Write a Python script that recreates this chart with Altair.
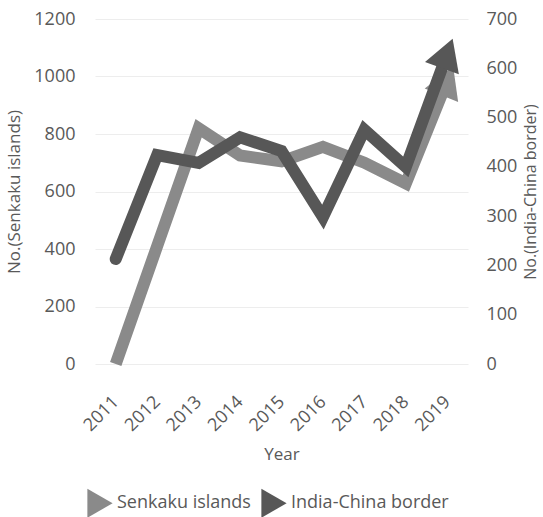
import math
import altair as alt
import pandas as pd

years = ["2011", "2012", "2013", "2014", "2015", "2016", "2017", "2018", "2019"]
senkaku = [0, 410, 820, 725, 705, 755, 700, 628, 985]
india_china = [213, 424, 408, 460, 432, 298, 475, 400, 630]
series_names = ["Senkaku islands", "India-China border"]
left_max = 1200
right_max = 700

W, H = 373, 345
FONT = "Open Sans"
TXT = "#595959"
colors = ["#8a8a8a", "#575757"]

df_s = pd.DataFrame({"year": years, "value": senkaku, "series": series_names[0]})
df_i = pd.DataFrame({"year": years, "value": india_china, "series": series_names[1]})


def arrow_angle(vals, vmax):
    step = W / len(years)
    dy_up = H * (vals[-1] - vals[-2]) / vmax
    return math.degrees(math.atan2(step, dy_up))


end_s = df_s.iloc[[-1]].assign(angle=arrow_angle(senkaku, left_max))
end_i = df_i.iloc[[-1]].assign(angle=arrow_angle(india_china, right_max))

x_enc = alt.X(
    "year:N",
    sort=years,
    scale=alt.Scale(paddingInner=0, paddingOuter=0.5),
    axis=alt.Axis(
        title="Year", labelAngle=-45, labelAlign="right", labelBaseline="middle",
        labelPadding=35, ticks=False, domain=False, grid=False,
        labelFontSize=18, titleFontSize=17, titlePadding=12,
    ),
)

y_left = alt.Y(
    "value:Q",
    scale=alt.Scale(domain=[0, left_max], nice=False),
    axis=alt.Axis(
        title="No.(Senkaku islands)", orient="left", values=list(range(0, 1201, 200)),
        format="d", ticks=False, domain=False, labelPadding=20, titlePadding=10,
        gridColor="#ededed", labelFontSize=18, titleFontSize=17,
    ),
)
y_right = alt.Y(
    "value:Q",
    scale=alt.Scale(domain=[0, right_max], nice=False),
    axis=alt.Axis(
        title="No.(India-China border)", orient="right", values=list(range(0, 701, 100)),
        format="d", ticks=False, domain=False, grid=False, labelPadding=18, titlePadding=6,
        labelFontSize=18, titleFontSize=16, titleAngle=-90, titleBaseline="top",
    ),
)

color_scale = alt.Scale(domain=series_names, range=colors)
legend_def = alt.Legend(
    title=None, orient="none", legendX=-10, legendY=469, direction="horizontal",
    symbolType="triangle-right", symbolSize=850, symbolStrokeWidth=0,
    symbolFillColor=None, symbolOpacity=1, labelFontSize=18, labelColor=TXT, labelFont=FONT,
    columnPadding=8, labelOffset=2,
)
color_enc = alt.Color("series:N", scale=color_scale, legend=legend_def)

line_s = alt.Chart(df_s).mark_line(strokeWidth=12, strokeJoin="miter", strokeCap="butt").encode(
    x=x_enc, y=y_left, color=color_enc
)
head_s = alt.Chart(end_s).mark_point(shape="triangle-up", filled=True, size=1300, opacity=1).encode(
    x=x_enc, y=y_left, color=color_enc, angle=alt.Angle("angle:Q", scale=None)
)
line_i = alt.Chart(df_i).mark_line(strokeWidth=12, strokeJoin="miter", strokeCap="round").encode(
    x=x_enc, y=y_right, color=color_enc
)
head_i = alt.Chart(end_i).mark_point(shape="triangle-up", filled=True, size=1300, opacity=1).encode(
    x=x_enc, y=y_right, color=color_enc, angle=alt.Angle("angle:Q", scale=None)
)

left = alt.layer(line_s, head_s)
right = alt.layer(line_i, head_i)

chart = (
    alt.layer(left, right)
    .resolve_scale(y="independent")
    .properties(
        width=W, height=H,
        autosize=alt.AutoSizeParams(type="none"),
        padding={"left": 95, "top": 19, "right": 75, "bottom": 153},
        background="white",
    )
    .configure_view(stroke=None)
    .configure_axis(labelFont=FONT, titleFont=FONT, labelColor=TXT, titleColor=TXT,
                    titleFontWeight="normal")
)

chart.save("out.html", embed_options={"renderer": "svg", "actions": False})
